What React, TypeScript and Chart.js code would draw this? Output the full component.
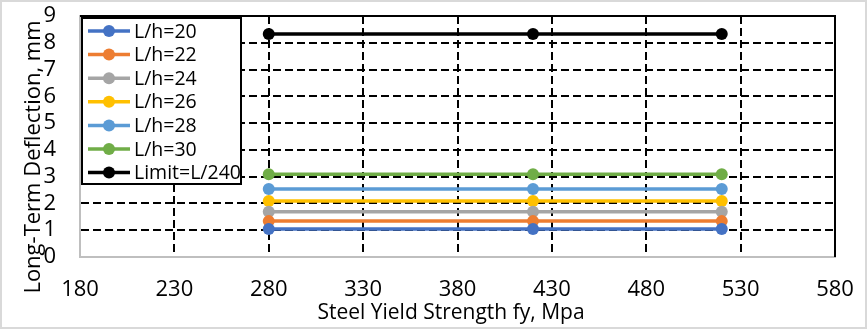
import { useEffect, useRef } from "react";
import { Chart, registerables } from "chart.js";

Chart.register(...registerables);

// ---- data ----
const fyValues = [280, 420, 520];
const lh20 = [1.05, 1.05, 1.05];
const lh22 = [1.34, 1.34, 1.34];
const lh24 = [1.69, 1.69, 1.69];
const lh26 = [2.09, 2.09, 2.09];
const lh28 = [2.54, 2.54, 2.54];
const lh30 = [3.09, 3.09, 3.09];
const limitL240 = [8.33, 8.33, 8.33];
const seriesLabels = ["L/h=20", "L/h=22", "L/h=24", "L/h=26", "L/h=28", "L/h=30", "Limit=L/240"];
const seriesColors = ["#4472C4", "#ED7D31", "#A5A5A5", "#FFC000", "#5B9BD5", "#70AD47", "#000000"];
const seriesValues = [lh20, lh22, lh24, lh26, lh28, lh30, limitL240];
const xMin = 180, xMax = 580, xStep = 50;
const yMin = 0, yMax = 9, yStep = 1;
const xTitle = "Steel Yield Strength fy, Mpa";
const yTitle = "Long-Term Deflection, mm";

const FONT = "'Open Sans', 'DejaVu Sans', sans-serif";

const decorPlugin = {
  id: "decor",
  beforeDraw(chart: any) {
    const ctx = chart.ctx;
    ctx.save();
    ctx.fillStyle = "#ffffff";
    ctx.fillRect(0, 0, chart.width, chart.height);
    ctx.restore();
  },
  afterDraw(chart: any) {
    const ctx = chart.ctx;
    const a = chart.chartArea;
    ctx.save();
    // outer frame
    ctx.strokeStyle = "#d9d9d9";
    ctx.lineWidth = 2;
    ctx.strokeRect(1, 1, chart.width - 2, chart.height - 2);
    // top and right border
    ctx.strokeStyle = "#000000";
    ctx.lineWidth = 2;
    ctx.beginPath();
    ctx.moveTo(a.left, a.top);
    ctx.lineTo(a.right, a.top);
    ctx.lineTo(a.right, a.bottom);
    ctx.stroke();
    // axis titles
    ctx.fillStyle = "#000000";
    ctx.textAlign = "center";
    ctx.textBaseline = "middle";
    ctx.font = `21px ${FONT}`;
    ctx.fillText(xTitle, 451, 313);
    ctx.save();
    ctx.translate(34, 157);
    ctx.rotate(-Math.PI / 2);
    ctx.font = `22px ${FONT}`;
    ctx.fillText(yTitle, 0, 0);
    ctx.restore();
    // legend
    const bx = 82, by = 18, bw = 159, bh = 166;
    ctx.fillStyle = "#ffffff";
    ctx.fillRect(bx, by, bw, bh);
    ctx.strokeStyle = "#000000";
    ctx.lineWidth = 2;
    ctx.strokeRect(bx, by, bw, bh);
    ctx.font = `19.5px ${FONT}`;
    ctx.textAlign = "left";
    ctx.textBaseline = "middle";
    chart.data.datasets.forEach((ds: any, i: number) => {
      const y = 31 + i * 23.6;
      ctx.strokeStyle = ds.borderColor;
      ctx.lineWidth = 3.5;
      ctx.beginPath();
      ctx.moveTo(88, y);
      ctx.lineTo(130, y);
      ctx.stroke();
      ctx.fillStyle = ds.backgroundColor;
      ctx.beginPath();
      ctx.arc(109, y, 6, 0, Math.PI * 2);
      ctx.fill();
      ctx.fillStyle = "#000000";
      ctx.fillText(ds.label, 134, y + 1);
    });
    ctx.restore();
  },
};

export default function App() {
  const ref = useRef<HTMLCanvasElement>(null);
  useEffect(() => {
    document.body.style.margin = "0";
    const datasets = seriesLabels.map((label, i) => ({
      label,
      data: fyValues.map((x, j) => ({ x, y: seriesValues[i][j] })),
      borderColor: seriesColors[i],
      backgroundColor: seriesColors[i],
      pointBackgroundColor: seriesColors[i],
      pointBorderColor: seriesColors[i],
      borderWidth: 3.5,
      pointRadius: 6,
      pointBorderWidth: 0,
      showLine: true,
      fill: false,
      tension: 0,
    }));
    const chart = new Chart(ref.current!, {
      type: "scatter",
      data: { datasets },
      plugins: [decorPlugin],
      options: {
        animation: false,
        responsive: false,
        layout: { padding: { top: 16, right: 32, left: 0, bottom: 0 } },
        plugins: { legend: { display: false }, tooltip: { enabled: false } },
        scales: {
          x: {
            type: "linear",
            min: xMin,
            max: xMax,
            ticks: {
              stepSize: xStep,
              autoSkip: false,
              maxRotation: 0,
              color: "#000000",
              font: { family: FONT, size: 22 },
              padding: 20,
            },
            grid: {
              drawTicks: false,
              color: (c: any) =>
                c.tick && (c.tick.value === xMin || c.tick.value === xMax) ? "rgba(0,0,0,0)" : "#000000",
              lineWidth: 2,
            },
            border: { display: true, color: "#bfbfbf", width: 2, dash: [8, 4] },
            afterFit: (s: any) => {
              s.height = 72;
              s.paddingLeft = 0;
              s.paddingRight = 0;
            },
          } as any,
          y: {
            type: "linear",
            min: yMin,
            max: yMax,
            ticks: {
              stepSize: yStep,
              autoSkip: false,
              color: "#000000",
              font: { family: FONT, size: 22 },
              padding: 24,
            },
            grid: {
              drawTicks: false,
              color: (c: any) =>
                c.tick && (c.tick.value === yMin || c.tick.value === yMax) ? "rgba(0,0,0,0)" : "#000000",
              lineWidth: 2,
            },
            border: { display: true, color: "#bfbfbf", width: 2, dash: [8, 4] },
            afterFit: (s: any) => {
              s.width = 80;
              s.paddingTop = 0;
              s.paddingBottom = 0;
            },
          } as any,
        },
      },
    });
    return () => chart.destroy();
  }, []);
  return (
    <div style={{ width: 867, height: 329 }}>
      <canvas ref={ref} width={867} height={329} />
    </div>
  );
}
